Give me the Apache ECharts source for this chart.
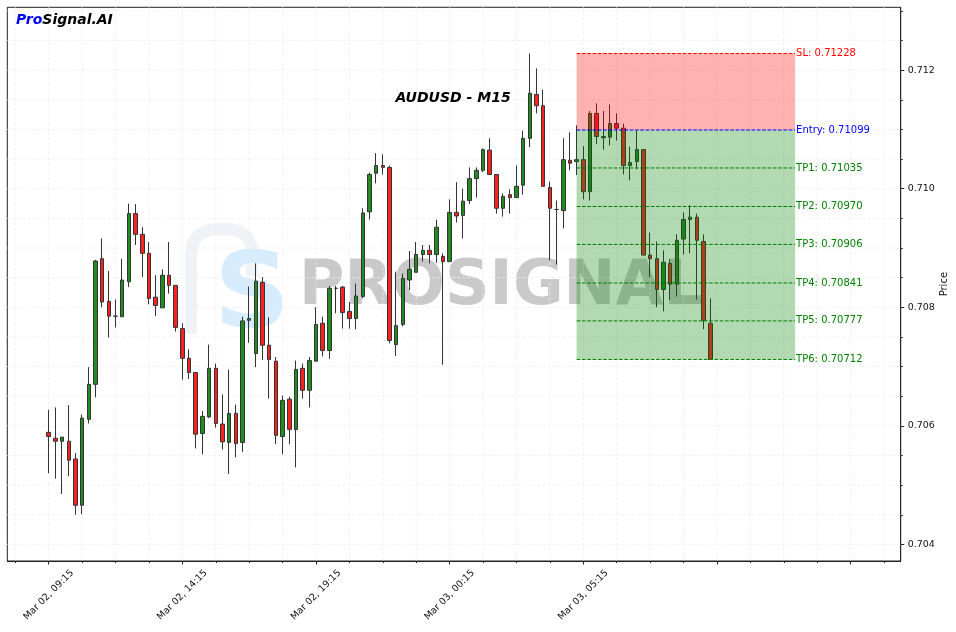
<!DOCTYPE html>
<html>
<head>
<meta charset="utf-8">
<script src="https://cdn.jsdelivr.net/npm/echarts@6.0.0/dist/echarts.min.js"></script>
<style>
  html, body { margin: 0; padding: 0; background: #fff; }
  #main { width: 956px; height: 632px; }
</style>
</head>
<body>
<div id="main"></div>
<script>
// AUDUSD M15 candles, Mar 02 09:15 onward (one entry per 15 min bar)
var opens = [
  0.70589, 0.70579, 0.70574, 0.70574, 0.70544, 0.70466, 0.70611, 0.70670, 0.70882, 0.70810,
  0.70785, 0.70784, 0.70843, 0.70958, 0.70923, 0.70891, 0.70817, 0.70799, 0.70854, 0.70837,
  0.70764, 0.70714, 0.70690, 0.70587, 0.70615, 0.70697, 0.70603, 0.70572, 0.70621, 0.70572,
  0.70778, 0.70722, 0.70842, 0.70736, 0.70709, 0.70582, 0.70645, 0.70594, 0.70697, 0.70660,
  0.70709, 0.70773, 0.70727, 0.70832, 0.70834, 0.70793, 0.70781, 0.70818, 0.70961, 0.71026,
  0.71039, 0.71036, 0.70737, 0.70771, 0.70846, 0.70859, 0.70889, 0.70896, 0.70889, 0.70886,
  0.70877, 0.70960, 0.70955, 0.70980, 0.71017, 0.71031, 0.71065, 0.71024, 0.70967, 0.70990,
  0.70985, 0.71006, 0.71085, 0.71159, 0.71140, 0.71002, 0.70965, 0.70963, 0.71048, 0.71046,
  0.71049, 0.70995, 0.71127, 0.71086, 0.71087, 0.71110, 0.71102, 0.71039, 0.71046, 0.71066,
  0.70888, 0.70882, 0.70830, 0.70874, 0.70839, 0.70915, 0.70948, 0.70952, 0.70911, 0.70773
];
var closes = [
  0.70582, 0.70574, 0.70581, 0.70542, 0.70466, 0.70613, 0.70670, 0.70878, 0.70809, 0.70785,
  0.70785, 0.70846, 0.70958, 0.70923, 0.70891, 0.70815, 0.70803, 0.70854, 0.70837, 0.70766,
  0.70714, 0.70690, 0.70586, 0.70616, 0.70697, 0.70604, 0.70573, 0.70621, 0.70570, 0.70777,
  0.70781, 0.70844, 0.70736, 0.70712, 0.70584, 0.70643, 0.70594, 0.70695, 0.70660, 0.70710,
  0.70771, 0.70727, 0.70832, 0.70832, 0.70791, 0.70781, 0.70819, 0.70959, 0.71024, 0.71039,
  0.71036, 0.70744, 0.70769, 0.70849, 0.70864, 0.70889, 0.70896, 0.70889, 0.70935, 0.70877,
  0.70960, 0.70954, 0.70979, 0.71017, 0.71031, 0.71066, 0.71024, 0.70967, 0.70987, 0.70985,
  0.71004, 0.71085, 0.71161, 0.71140, 0.71004, 0.70967, 0.70965, 0.71049, 0.71043, 0.71049,
  0.70995, 0.71127, 0.71088, 0.71088, 0.71110, 0.71102, 0.71039, 0.71044, 0.71066, 0.70888,
  0.70882, 0.70830, 0.70876, 0.70839, 0.70913, 0.70948, 0.70952, 0.70913, 0.70778, 0.70712
];
var lows = [
  0.70520, 0.70511, 0.70485, 0.70515, 0.70450, 0.70451, 0.70604, 0.70648, 0.70800, 0.70749,
  0.70766, 0.70784, 0.70834, 0.70905, 0.70851, 0.70805, 0.70785, 0.70799, 0.70823, 0.70759,
  0.70678, 0.70679, 0.70562, 0.70552, 0.70613, 0.70597, 0.70560, 0.70519, 0.70547, 0.70556,
  0.70740, 0.70699, 0.70711, 0.70646, 0.70569, 0.70552, 0.70569, 0.70530, 0.70646, 0.70631,
  0.70709, 0.70717, 0.70713, 0.70790, 0.70764, 0.70764, 0.70763, 0.70815, 0.70948, 0.71009,
  0.71024, 0.70739, 0.70718, 0.70768, 0.70829, 0.70859, 0.70877, 0.70874, 0.70875, 0.70703,
  0.70877, 0.70943, 0.70916, 0.70974, 0.70985, 0.71028, 0.71024, 0.70958, 0.70953, 0.70958,
  0.70985, 0.70990, 0.71070, 0.71127, 0.71004, 0.70879, 0.70872, 0.70933, 0.71031, 0.71023,
  0.70982, 0.70980, 0.71075, 0.71066, 0.71073, 0.71081, 0.71024, 0.71014, 0.71033, 0.70888,
  0.70850, 0.70800, 0.70793, 0.70812, 0.70818, 0.70889, 0.70891, 0.70813, 0.70763, 0.70712
];
var highs = [
  0.70627, 0.70631, 0.70581, 0.70635, 0.70554, 0.70619, 0.70699, 0.70880, 0.70916, 0.70861,
  0.70813, 0.70882, 0.70975, 0.70974, 0.70935, 0.70910, 0.70854, 0.70864, 0.70910, 0.70837,
  0.70773, 0.70729, 0.70690, 0.70625, 0.70737, 0.70705, 0.70653, 0.70695, 0.70636, 0.70784,
  0.70835, 0.70874, 0.70851, 0.70783, 0.70716, 0.70651, 0.70649, 0.70710, 0.70705, 0.70716,
  0.70800, 0.70784, 0.70836, 0.70836, 0.70836, 0.70809, 0.70840, 0.70967, 0.71027, 0.71060,
  0.71058, 0.71039, 0.70860, 0.70857, 0.70895, 0.70910, 0.70905, 0.70905, 0.70948, 0.70891,
  0.70982, 0.71011, 0.71000, 0.71036, 0.71036, 0.71068, 0.71085, 0.71024, 0.70992, 0.70999,
  0.71039, 0.71098, 0.71228, 0.71203, 0.71167, 0.71012, 0.70980, 0.71085, 0.71095, 0.71107,
  0.71072, 0.71131, 0.71144, 0.71131, 0.71142, 0.71127, 0.71110, 0.71071, 0.71098, 0.71066,
  0.70926, 0.70911, 0.70896, 0.70881, 0.70923, 0.70960, 0.70972, 0.70958, 0.70923, 0.70815
];

// x tick labels (bar index -> time)
var xTickIndex = [0, 20, 40, 60, 80];
var xTickLabels = ['Mar 02, 09:15', 'Mar 02, 14:15', 'Mar 02, 19:15', 'Mar 03, 00:15', 'Mar 03, 05:15'];
var xMajorTicks = [0, 20, 40, 60, 80, 100, 120];
var xMinorTicks = [-5, 0, 5, 10, 15, 20, 25, 30, 35, 40, 45, 50, 55, 60, 65, 70, 75, 80, 85, 90, 95, 100, 105, 110, 115, 120, 125];

// y tick labels
var yMajorTicks = [0.704, 0.706, 0.708, 0.710, 0.712];
var yMinorTicks = [0.7040, 0.7045, 0.7050, 0.7055, 0.7060, 0.7065, 0.7070, 0.7075, 0.7080, 0.7085,
                   0.7090, 0.7095, 0.7100, 0.7105, 0.7110, 0.7115, 0.7120, 0.7125, 0.7130];

// trade levels
var levelNames = ['SL', 'Entry', 'TP1', 'TP2', 'TP3', 'TP4', 'TP5', 'TP6'];
var levelValues = [0.71228, 0.71099, 0.71035, 0.70970, 0.70906, 0.70841, 0.70777, 0.70712];
var zoneStart = 79;
var zoneEnd = 111.7;

var xMin = -6.2, xMax = 127.5;
var yMin = 0.70372, yMax = 0.71306;
var FONT = 'DejaVu Sans';

function levelColor(i) {
  if (i === 0) return '#ff0000';
  if (i === 1) return '#0000ff';
  return '#008000';
}

var candles = opens.map(function (o, i) {
  return [i, o, closes[i], lows[i], highs[i]];
});

var gridData = [];
xMinorTicks.forEach(function (v) { gridData.push([0, v]); });
yMinorTicks.forEach(function (v) { gridData.push([1, v]); });

var sl = levelValues[0], entry = levelValues[1], lastTp = levelValues[levelValues.length - 1];
var zoneData = [
  [zoneStart, zoneEnd, sl, entry, 0],
  [zoneStart, zoneEnd, entry, lastTp, 1]
];
var levelData = levelValues.map(function (v, i) { return [zoneStart, v, i]; });

var myChart = echarts.init(document.getElementById('main'));

var option = {
  animation: false,
  backgroundColor: '#ffffff',
  grid: {
    left: 7.3, right: 55.3, top: 7.3, bottom: 71,
    containLabel: false, outerBoundsMode: 'none',
    show: true, borderColor: '#222', borderWidth: 1, backgroundColor: 'transparent'
  },
  xAxis: [
    {
      type: 'value', min: xMin, max: xMax, position: 'bottom',
      axisLine: { onZero: false, lineStyle: { color: '#222', width: 1 } },
      axisTick: { customValues: xMajorTicks, length: 3.5, lineStyle: { color: '#222' } },
      axisLabel: {
        customValues: xTickIndex,
        rotate: 45, align: 'center', verticalAlign: 'middle', margin: 34,
        fontFamily: FONT, fontSize: 9.5, color: '#111',
        formatter: function (v) {
          var k = xTickIndex.indexOf(Math.round(v));
          return k >= 0 ? xTickLabels[k] : '';
        }
      },
      splitLine: { show: false }
    },
    {
      type: 'value', min: xMin, max: xMax, position: 'bottom',
      axisLine: { show: false, onZero: false },
      axisTick: { customValues: xMinorTicks, length: 2, lineStyle: { color: '#222' } },
      axisLabel: { show: false },
      splitLine: { show: false }
    }
  ],
  yAxis: [
    {
      type: 'value', min: yMin, max: yMax, position: 'right', scale: true,
      name: 'Price', nameLocation: 'middle', nameRotate: 90, nameGap: 39, nameMoveOverlap: false,
      nameTextStyle: { fontFamily: FONT, fontSize: 10, color: '#111' },
      axisLine: { show: true, onZero: false, lineStyle: { color: '#222', width: 1 } },
      axisTick: { show: true, customValues: yMajorTicks, length: 3.5, lineStyle: { color: '#222' } },
      axisLabel: {
        customValues: yMajorTicks, margin: 7,
        fontFamily: FONT, fontSize: 9.5, color: '#111',
        formatter: function (v) { return v.toFixed(3); }
      },
      splitLine: { show: false }
    },
    {
      type: 'value', min: yMin, max: yMax, position: 'right', scale: true,
      axisLine: { show: false, onZero: false },
      axisTick: { show: true, customValues: yMinorTicks, length: 2, lineStyle: { color: '#222' } },
      axisLabel: { show: false },
      splitLine: { show: false }
    }
  ],
  graphic: [
    {
      type: 'polyline', z: 0, silent: true,
      shape: { points: [[191, 334], [191, 254], [193, 242], [200, 234], [210, 229.5], [228, 229],
                        [240, 231], [248, 238], [252, 248], [252, 276]] },
      style: { fill: null, stroke: '#eff2f6', lineWidth: 12, lineJoin: 'round' }
    },
    {
      type: 'text', z: 0, silent: true, x: 252, y: 300,
      style: { text: 'S', font: 'bold 105px "DejaVu Sans"', fill: '#d6ebfb', textAlign: 'center', textVerticalAlign: 'middle' }
    },
    {
      type: 'text', z: 0, silent: true, x: 501, y: 288,
      style: { text: 'PROSIGNAL', font: 'bold 62px "DejaVu Sans"', fill: '#c9c9c9', textAlign: 'center', textVerticalAlign: 'middle' }
    },
    {
      type: 'text', z: 20, silent: true, x: 453, y: 98,
      style: { text: 'AUDUSD - M15', font: 'italic bold 14px "DejaVu Sans"', fill: '#000', textAlign: 'center', textVerticalAlign: 'middle' }
    },
    {
      type: 'text', z: 20, silent: true, x: 16, y: 20,
      style: {
        text: '{a|Pro}{b|Signal.AI}', textVerticalAlign: 'middle',
        rich: {
          a: { font: 'italic bold 14px "DejaVu Sans"', fill: '#0000ff' },
          b: { font: 'italic bold 14px "DejaVu Sans"', fill: '#000000' }
        }
      }
    }
  ],
  series: [
    {
      name: 'grid', type: 'custom', z: 1, silent: true,
      xAxisIndex: 0, yAxisIndex: 0,
      data: gridData,
      renderItem: function (params, api) {
        var cs = params.coordSys;
        var kind = api.value(0), v = api.value(1);
        if (kind === 0) {
          var p = api.coord([v, yMin]);
          return { type: 'line', shape: { x1: p[0], y1: cs.y, x2: p[0], y2: cs.y + cs.height },
                   style: { stroke: '#ededed', lineWidth: 0.8, lineDash: [3, 2] } };
        }
        var q = api.coord([xMin, v]);
        return { type: 'line', shape: { x1: cs.x, y1: q[1], x2: cs.x + cs.width, y2: q[1] },
                 style: { stroke: '#ededed', lineWidth: 0.8, lineDash: [3, 2] } };
      }
    },
    {
      name: 'AUDUSD', type: 'candlestick', z: 3,
      xAxisIndex: 0, yAxisIndex: 0,
      barWidth: 4,
      data: candles,
      itemStyle: {
        color: '#228b22', color0: '#ff2020',
        borderColor: '#333333', borderColor0: '#333333', borderColorDoji: '#333333',
        borderWidth: 1
      }
    },
    {
      name: 'zones', type: 'custom', z: 10, silent: true,
      xAxisIndex: 0, yAxisIndex: 0,
      data: zoneData,
      renderItem: function (params, api) {
        var a = api.coord([api.value(0), api.value(2)]);
        var b = api.coord([api.value(1), api.value(3)]);
        var fill = api.value(4) === 0 ? 'rgba(255,0,0,0.3)' : 'rgba(0,128,0,0.3)';
        return { type: 'rect', shape: { x: a[0], y: a[1], width: b[0] - a[0], height: b[1] - a[1] },
                 style: { fill: fill } };
      }
    },
    {
      name: 'levels', type: 'custom', z: 11, silent: true,
      xAxisIndex: 0, yAxisIndex: 0,
      data: levelData,
      renderItem: function (params, api) {
        var i = api.value(2);
        var v = api.value(1);
        var a = api.coord([zoneStart, v]);
        var b = api.coord([zoneEnd, v]);
        var c = levelColor(i);
        return {
          type: 'group',
          children: [
            { type: 'line', shape: { x1: a[0], y1: a[1], x2: b[0], y2: b[1] },
              style: { stroke: c, lineWidth: 1, lineDash: [3.7, 1.6] } },
            { type: 'text', x: b[0] + 1, y: b[1],
              style: { text: levelNames[i] + ': ' + levelValues[i].toFixed(5),
                       font: '10px "DejaVu Sans"', fill: c, textAlign: 'left', textVerticalAlign: 'middle' } }
          ]
        };
      }
    }
  ]
};

myChart.setOption(option);
</script>
</body>
</html>
